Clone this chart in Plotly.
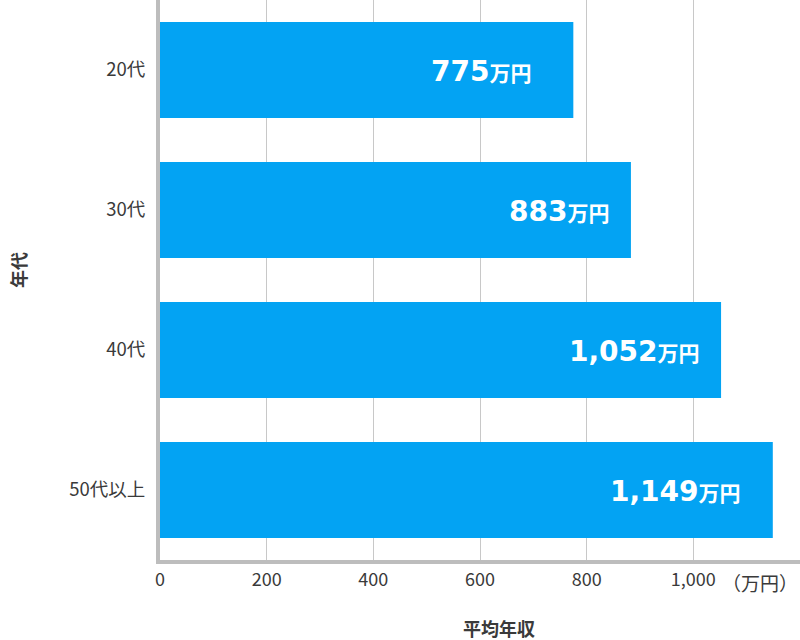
import plotly.graph_objects as go

categories = ["20代", "30代", "40代", "50代以上"]
values = [775, 883, 1052, 1149]
tick_vals = [0, 200, 400, 600, 800, 1000]
tick_text = ["0", "200", "400", "600", "800", "1,000"]
unit = "万円"

# label placement (pixels, styling only)
label_xshift = [-40, -20, -19, -30]

FONT = "Noto Sans CJK JP"
NUMFONT = "DejaVu Sans"
BAR = "#03A3F3"
TXT = "#3a3a3a"

fig = go.Figure()
fig.add_trace(go.Bar(
    y=categories, x=values, orientation="h",
    marker=dict(color=BAR, line=dict(width=0)),
    width=0.686, hoverinfo="skip",
))

for c, v, dx in zip(categories, values, label_xshift):
    fig.add_annotation(
        x=v, y=c, xref="x", yref="y",
        xanchor="right", yanchor="middle", xshift=dx, yshift=-1,
        text=(f"<span style='font-family:\"{NUMFONT}\"'><b>{v:,}</b></span>"
              f"<span style='font-size:21px'><b>{unit}</b></span>"),
        showarrow=False,
        font=dict(family=FONT, size=28, color="white"),
    )

fig.add_annotation(
    x=1, y=0, xref="paper", yref="paper",
    xanchor="right", yanchor="top", xshift=0, yshift=-7,
    text="（万円）", showarrow=False,
    font=dict(family=FONT, size=19, color=TXT),
)
fig.add_annotation(
    x=0.5, y=0, xref="paper", yref="paper",
    xanchor="center", yanchor="middle", xshift=19, yshift=-68,
    text="<b>平均年収</b>", showarrow=False,
    font=dict(family=FONT, size=18, color=TXT),
)
fig.add_annotation(
    x=0, y=0.5, xref="paper", yref="paper",
    xanchor="center", yanchor="middle", xshift=-142, yshift=10,
    text="<b>年代</b>", showarrow=False, textangle=-90,
    font=dict(family=FONT, size=18, color=TXT),
)

fig.update_layout(
    width=800, height=640,
    margin=dict(l=160, r=0, t=0, b=80, autoexpand=False),
    paper_bgcolor="white", plot_bgcolor="white",
    showlegend=False,
    font=dict(family=FONT, size=18, color=TXT),
    bargap=0.3,
)
fig.update_xaxes(
    range=[0, 1200], tickvals=tick_vals, ticktext=tick_text,
    showgrid=True, gridcolor="#C8C8C8", gridwidth=1,
    showline=True, linecolor="#BDBDBD", linewidth=4,
    zeroline=False, ticks="", ticklen=0, automargin=False,
    tickfont=dict(family=FONT, size=18, color=TXT),
    fixedrange=True,
)
fig.update_yaxes(
    autorange="reversed", automargin=False,
    showline=True, linecolor="#BDBDBD", linewidth=4,
    showgrid=False, ticks="", ticklabelstandoff=7,
    tickfont=dict(family=FONT, size=18.5, color=TXT),
    fixedrange=True,
)

fig.write_html("out.html", config={"displayModeBar": False},
               post_script="document.body.style.margin='0';")
